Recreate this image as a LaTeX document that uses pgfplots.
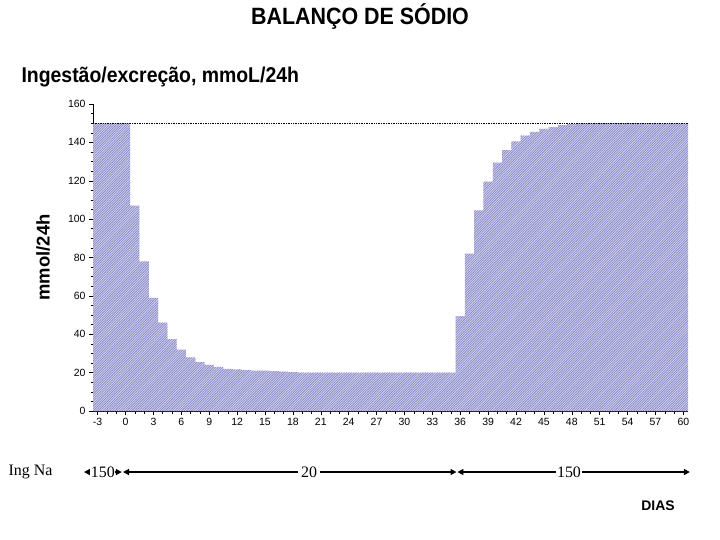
\documentclass[border=0pt]{standalone}
\usepackage{pgfplots}
\pgfplotsset{compat=1.18}
\usepackage{pgfplotstable}
\usepackage{fontspec}
\setmainfont{Liberation Sans}
\newfontfamily\seriffont{Liberation Serif}
\usetikzlibrary{patterns,arrows.meta}
\definecolor{barbase}{RGB}{212,212,238}
\definecolor{barline}{RGB}{135,135,198}
\pgfdeclarepatternformonly{fineNE}{\pgfqpoint{-1pt}{-1pt}}{\pgfqpoint{3pt}{3pt}}{\pgfqpoint{2.4pt}{2.4pt}}{%
  \pgfsetlinewidth{0.6pt}%
  \pgfpathmoveto{\pgfqpoint{-0.2pt}{-0.2pt}}%
  \pgfpathlineto{\pgfqpoint{2.6pt}{2.6pt}}%
  \pgfusepath{stroke}}

\pgfplotstableread{
d v
-3 150
-2 150
-1 150
0 150
1 107
2 78
3 59
4 46
5 37.5
6 32
7 28
8 25.5
9 24
10 23
11 22
12 21.7
13 21.3
14 21
15 21
16 20.8
17 20.5
18 20.3
19 20
20 20
21 20
22 20
23 20
24 20
25 20
26 20
27 20
28 20
29 20
30 20
31 20
32 20
33 20
34 20
35 20
36 49.5
37 82
38 104.5
39 119.5
40 129.5
41 136
42 140.5
43 143.5
44 145.5
45 147
46 148
47 149
48 149.5
49 150
50 150
51 150
52 150
53 150
54 150
55 150
56 150
57 150
58 150
59 150
60 150
61 150
}\sodio

\begin{document}
\begin{tikzpicture}[x=1bp,y=1bp]
\path[use as bounding box] (0,0) rectangle (720,-540);
\node[font=\fontsize{21.5}{25}\selectfont\bfseries, yscale=1.1] at (360,-17) {BALANÇO DE SÓDIO};
\node[anchor=west,font=\fontsize{19.5}{23}\selectfont\bfseries, yscale=1.1] at (18,-77) {Ingestão/excreção, mmoL/24h};
\node[anchor=west,font=\seriffont\fontsize{16}{19}\selectfont] at (5,-472) {Ing Na};
\node[font=\fontsize{14}{17}\selectfont\bfseries] at (658,-506) {DIAS};
\begin{axis}[
  at={(93bp,-411bp)}, anchor=south west,
  scale only axis, width=595bp, height=307bp,
  xmin=-3.5, xmax=60.5, ymin=0, ymax=160,
  axis x line=bottom, axis y line=left,
  axis line style={-, black, line width=0.6pt},
  xtick={-3,0,...,60}, minor x tick num=2,
  ytick={0,20,...,160}, minor y tick num=3,
  tick align=outside,
  major tick length=4bp, minor tick length=2.5bp,
  tick style={black, line width=0.5pt},
  ticklabel style={font=\fontsize{10.5}{12}\selectfont},
  /pgf/number format/assume math mode=true,
  ylabel={mmol/24h},
  ylabel style={font=\fontsize{18.5}{22}\selectfont\bfseries, at={(axis description cs:-0.084,0.5)}, anchor=center},
  clip=false,
]
\addplot[const plot mark left, draw=none, fill=barbase,
  postaction={pattern=fineNE, pattern color=barline}]
  table[x expr=\thisrow{d}-0.5, y=v] {\sodio} \closedcycle;
\addplot[black, densely dotted, line width=0.7pt] coordinates {(-3.5,150) (60.5,150)};
% intake annotation
\draw[line width=1.6pt, {Triangle[length=6bp,width=6bp]}-{Triangle[length=6bp,width=6bp]}]
  (axis cs:-4.47,-31.8) -- node[fill=white, inner sep=0.5bp, font=\seriffont\fontsize{16}{19}\selectfont] {150} (axis cs:-0.4,-31.8);
\draw[line width=1.6pt, {Triangle[length=6bp,width=6bp]}-{Triangle[length=6bp,width=6bp]}]
  (axis cs:-0.27,-31.8) -- node[pos=0.558, fill=white, inner sep=3bp, font=\seriffont\fontsize{16}{19}\selectfont] {20} (axis cs:35.6,-31.8);
\draw[line width=1.6pt, {Triangle[length=6bp,width=6bp]}-{Triangle[length=6bp,width=6bp]}]
  (axis cs:35.7,-31.8) -- node[pos=0.48, fill=white, inner sep=1bp, font=\seriffont\fontsize{16}{19}\selectfont] {150} (axis cs:60.7,-31.8);
\end{axis}
\end{tikzpicture}
\end{document}
